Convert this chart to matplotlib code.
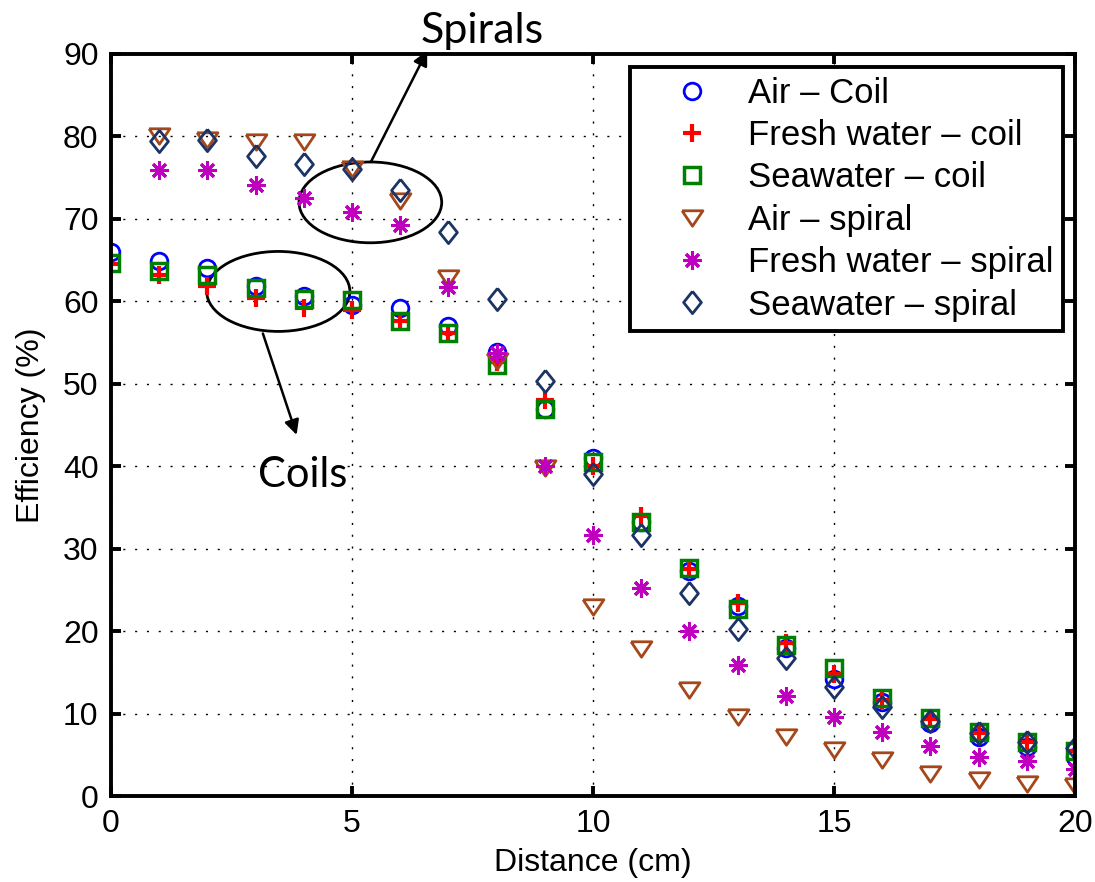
import matplotlib
matplotlib.use("Agg")
import matplotlib.pyplot as plt
from matplotlib.patches import Ellipse

plt.rcParams['font.family'] = ['Liberation Sans', 'DejaVu Sans']

# distance (cm)
dist_coil = list(range(0, 21))
dist_spiral = list(range(1, 21))

# efficiency (%)
air_coil = [66.0, 64.9, 64.0, 61.8, 60.6, 59.6, 59.2, 57.0, 53.8, 47.0, 41.0,
            33.2, 27.3, 23.0, 18.0, 14.2, 11.4, 8.9, 7.1, 5.9, 4.7]
fresh_coil = [64.5, 63.2, 61.8, 60.4, 59.2, 59.0, 57.6, 56.2, 52.6, 48.0, 40.0,
              34.0, 27.5, 23.4, 18.6, 14.8, 11.7, 9.4, 7.6, 6.5, 5.5]
sea_coil = [64.6, 63.7, 63.2, 61.6, 60.3, 60.2, 57.6, 56.2, 52.3, 47.0, 40.5,
            33.2, 27.6, 22.7, 18.3, 15.5, 11.9, 9.5, 7.8, 6.5, 5.4]
air_spiral = [80.1, 79.6, 79.3, 79.3, 76.0, 72.2, 62.8, 52.8, 39.8, 22.9,
              17.8, 12.9, 9.6, 7.2, 5.6, 4.4, 2.7, 2.0, 1.5, 1.2]
fresh_spiral = [75.9, 75.9, 74.1, 72.5, 70.8, 69.3, 61.7, 53.7, 40.0, 31.6,
                25.2, 20.0, 15.9, 12.1, 9.6, 7.8, 6.1, 4.7, 4.2, 3.3]
sea_spiral = [79.5, 79.6, 77.6, 76.7, 76.1, 73.5, 68.4, 60.3, 50.3, 39.0,
              31.6, 24.6, 20.3, 16.7, 13.2, 10.8, 9.1, 7.7, 6.6, 5.8]

labels = ['Air \u2013 Coil', 'Fresh water \u2013 coil', 'Seawater \u2013 coil',
          'Air \u2013 spiral', 'Fresh water \u2013 spiral', 'Seawater \u2013 spiral']

# matlab-like markers (wide triangle, narrow diamond, 8 arm asterisk)
tri_down = [(-1, 0.74), (1, 0.74), (0, -0.74), (-1, 0.74)]
diamond = [(0, 1), (0.8, 0), (0, -1), (-0.8, 0), (0, 1)]

fig = plt.figure(figsize=(10.95, 8.82), dpi=100)
ax = fig.add_axes([0.1014, 0.0975, 0.8804, 0.8413])

ax.plot(dist_coil, air_coil, linestyle='none', marker='o', ms=12, mew=2,
        mfc='none', mec='#0000ff', label=labels[0])
ax.plot(dist_coil, fresh_coil, linestyle='none', marker='+', ms=13, mew=3,
        mec='#ff0000', label=labels[1])
ax.plot(dist_coil, sea_coil, linestyle='none', marker='s', ms=11, mew=2.5,
        mfc='none', mec='#008000', label=labels[2])
ax.plot(dist_spiral, air_spiral, linestyle='none', marker=tri_down, ms=15, mew=2,
        mfc='none', mec='#a4481b', label=labels[3])
ax.plot(dist_spiral, fresh_spiral, linestyle='none', marker=(8, 2, 0), ms=13, mew=2.2,
        mec='#bf00bf', label=labels[4])
ax.plot(dist_spiral, sea_spiral, linestyle='none', marker=diamond, ms=16, mew=2,
        mfc='none', mec='#1c3366', label=labels[5])

ax.set_xlim(0, 20)
ax.set_ylim(0, 90)
ax.set_xticks([0, 5, 10, 15, 20])
ax.set_yticks(range(0, 91, 10))
ax.grid(True, color='black', linestyle=(0, (1.5, 7)), linewidth=1)
ax.tick_params(direction='in', length=7, width=2.8, labelsize=23,
               top=True, right=True, pad=9)
for s in ax.spines.values():
    s.set_linewidth(2.8)

ax.set_xlabel('Distance (cm)', fontsize=23, labelpad=7)
ax.set_ylabel('Efficiency (%)', fontsize=23, labelpad=12)

leg = ax.legend(loc='upper right', bbox_to_anchor=(0.9876, 0.9825), fontsize=25,
                frameon=True, fancybox=False, edgecolor='black', framealpha=1,
                handlelength=3.0, handletextpad=0.12, labelspacing=0.27,
                borderpad=0.28, borderaxespad=0)
leg.get_frame().set_linewidth(2.8)

# ellipses around the spiral and coil groups
ax.add_patch(Ellipse((5.38, 72.0), 2.96, 9.8, fill=False, edgecolor='black', lw=2))
ax.add_patch(Ellipse((3.47, 61.2), 2.97, 9.7, fill=False, edgecolor='black', lw=2))

ax.annotate('', xy=(6.56, 90.4), xytext=(5.39, 76.9), annotation_clip=False,
            arrowprops=dict(arrowstyle='-|>', color='black', lw=1.8,
                            mutation_scale=22, shrinkA=0, shrinkB=0))
ax.annotate('', xy=(3.85, 43.8), xytext=(3.15, 56.1), annotation_clip=False,
            arrowprops=dict(arrowstyle='-|>', color='black', lw=1.8,
                            mutation_scale=22, shrinkA=0, shrinkB=0))

ax.text(7.7, 91.3, 'Spirals', fontsize=31, family=['Lato', 'DejaVu Sans'],
        ha='center', va='baseline', clip_on=False)
ax.text(3.97, 37.45, 'Coils', fontsize=30, family=['Lato', 'DejaVu Sans'],
        ha='center', va='baseline')

fig.savefig('out.png', dpi=100)
